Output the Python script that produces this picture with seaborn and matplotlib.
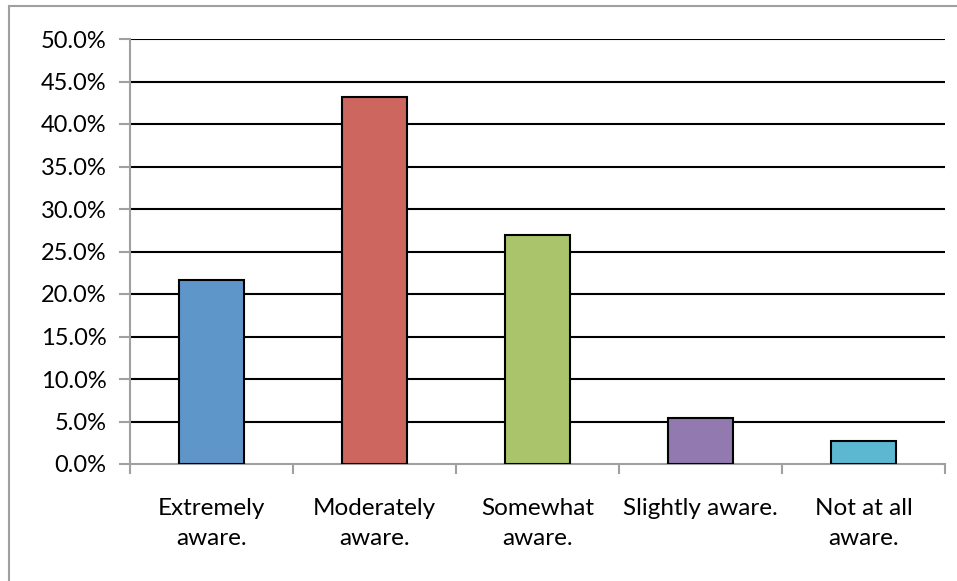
import matplotlib
matplotlib.use('Agg')
import matplotlib.pyplot as plt
import seaborn as sns
import pandas as pd
from matplotlib.patches import Rectangle
from matplotlib.ticker import FuncFormatter, FixedLocator

categories = ['Extremely\naware.', 'Moderately\naware.', 'Somewhat\naware.',
              'Slightly aware.', 'Not at all\naware.']
shares = [21.6, 43.2, 27.0, 5.4, 2.7]
colors = ['#5F96C9', '#CD665E', '#A9C46B', '#9279AF', '#5BB8D0']
y_ticks = [0, 5, 10, 15, 20, 25, 30, 35, 40, 45, 50]

sns.set_theme(style='white')
plt.rcParams['font.family'] = ['Lato', 'DejaVu Sans']

df = pd.DataFrame({'category': categories, 'share': shares})

W, H = 957, 581
fig = plt.figure(figsize=(W / 100, H / 100), dpi=100)
ax = fig.add_axes([130 / W, 1 - 464 / H, (945 - 130) / W, (464 - 39) / H])

# outer chart border (only top/left visible in the image)
fig.patches.append(Rectangle((9 / W, -0.1), 1.2, 1 - 6 / H + 0.1, transform=fig.transFigure,
                             fill=False, edgecolor='#A0A0A0', linewidth=1.5, zorder=0))

sns.barplot(data=df, x='category', y='share', hue='category', palette=colors,
            saturation=1, width=0.4, edgecolor='black', linewidth=1.5,
            legend=False, ax=ax, zorder=3)

ax.set_ylim(0, 50)
ax.set_xlim(-0.5, 4.5)
ax.yaxis.set_major_locator(FixedLocator(y_ticks))
ax.yaxis.set_major_formatter(FuncFormatter(lambda v, p: f'{v:.1f}%'))
for v in y_ticks[1:]:
    ax.axhline(v, color='black', linewidth=1.5, zorder=1)

for side in ['top', 'right']:
    ax.spines[side].set_visible(False)
for side in ['left', 'bottom']:
    ax.spines[side].set_color('#A0A0A0')
    ax.spines[side].set_linewidth(1.5)

ax.set_xlabel('')
ax.set_ylabel('')
# category labels at centers, tick marks at boundaries
ax.set_xticks(range(len(categories)))
ax.set_xticklabels(categories, fontsize=17.5, color='black', linespacing=1.5)
ax.set_xticks([i + 0.5 for i in range(-1, len(categories))], minor=True)
ax.tick_params(axis='x', which='major', length=0, pad=24.5)
ax.tick_params(axis='x', which='minor', length=7, width=1.5, color='#A0A0A0', direction='out')
ax.tick_params(axis='y', length=8, width=1.5, color='#A0A0A0', direction='out',
               labelsize=17, labelcolor='black', pad=9)
ax.tick_params(axis='both', bottom=True, left=True, which='both')
ax.tick_params(axis='x', which='major', bottom=False)

fig.savefig('out.png', dpi=100)
